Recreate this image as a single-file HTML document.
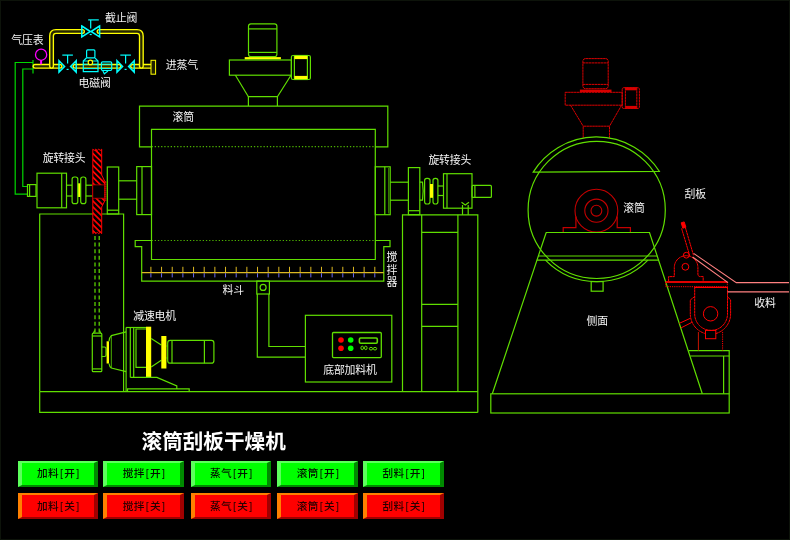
<!DOCTYPE html>
<html lang="zh"><head><meta charset="utf-8"><title>滚筒刮板干燥机</title>
<style>
html,body{margin:0;padding:0;background:#000}
body{width:790px;height:540px;overflow:hidden;position:relative;font-family:"Liberation Sans","Noto Sans CJK SC",sans-serif}
svg{position:absolute;left:0;top:0;filter:blur(0.5px)}
svg text{font-family:"Liberation Sans","Noto Sans CJK SC",sans-serif}
.edge{position:absolute;left:0;top:0;width:788px;height:538px;border:1px solid #0d130a;pointer-events:none}
.btn{position:absolute;box-sizing:border-box;width:80.6px;height:25.8px;border-style:solid;border-width:2.5px 4.5px 2.5px 4.5px;
font-size:10.67px;line-height:19.6px;text-align:center;color:#001400;font-weight:500;white-space:nowrap;letter-spacing:0.3px;filter:blur(0.3px)}
.b{display:inline-block;width:5.33px;text-align:center}
.on{padding:1px 0 0 2px;background:#00ff00;border-color:#5cff5c #008a00 #008a00 #5cff5c}
.off{padding:2.3px 0 0 2px;background:#ff0000;border-color:#ff8000 #a00000 #a00000 #ff8000;color:#280000}
</style></head><body>
<svg width="790" height="540" viewBox="0 0 790 540" fill="none">
<path d="M33,62.5 H15.2 V194.1 H27.5" stroke="#00d800" stroke-width="1.2" fill="none" />
<path d="M33,69 H22.8 V186.5 H27.5" stroke="#00d800" stroke-width="1.2" fill="none" />
<line x1="33" y1="60" x2="33" y2="73.5" stroke="#00d800" stroke-width="1.2" />
<path d="M35,66.3 H60" stroke="#ffff00" stroke-width="5" fill="none" stroke-linecap="round" stroke-linejoin="round"/>
<path d="M35,66.3 H60" stroke="#262600" stroke-width="2.3" fill="none" stroke-linecap="round" stroke-linejoin="round"/>
<path d="M75,66.3 H119" stroke="#ffff00" stroke-width="5" fill="none" stroke-linecap="round" stroke-linejoin="round"/>
<path d="M75,66.3 H119" stroke="#262600" stroke-width="2.3" fill="none" stroke-linecap="round" stroke-linejoin="round"/>
<path d="M132.5,66.3 H151" stroke="#ffff00" stroke-width="5" fill="none" stroke-linecap="round" stroke-linejoin="round"/>
<path d="M132.5,66.3 H151" stroke="#262600" stroke-width="2.3" fill="none" stroke-linecap="round" stroke-linejoin="round"/>
<path d="M51.55,66.3 V36 Q51.55,31.5 56,31.5 H82.5" stroke="#ffff00" stroke-width="5" fill="none" stroke-linecap="round" stroke-linejoin="round"/>
<path d="M51.55,66.3 V36 Q51.55,31.5 56,31.5 H82.5" stroke="#262600" stroke-width="2.3" fill="none" stroke-linecap="round" stroke-linejoin="round"/>
<path d="M99,31.5 H137 Q141.35,31.5 141.35,36 V66.3" stroke="#ffff00" stroke-width="5" fill="none" stroke-linecap="round" stroke-linejoin="round"/>
<path d="M99,31.5 H137 Q141.35,31.5 141.35,36 V66.3" stroke="#262600" stroke-width="2.3" fill="none" stroke-linecap="round" stroke-linejoin="round"/>
<rect x="151" y="60.3" width="4.6" height="13.9" rx="0" stroke="#ffff00" stroke-width="1" fill="#202000" />
<circle cx="41.1" cy="54.7" r="5.6" stroke="#ff00ff" stroke-width="1.3" fill="none" />
<line x1="41.1" y1="60.3" x2="41.1" y2="64.3" stroke="#ff00ff" stroke-width="2" />
<path d="M58.99999999999999,60.7 L64.6,66.4 L58.99999999999999,72.10000000000001 Z" stroke="#00ffff" stroke-width="1.5" fill="none" />
<path d="M76.19999999999999,60.7 L70.6,66.4 L76.19999999999999,72.10000000000001 Z" stroke="#00ffff" stroke-width="1.5" fill="none" />
<line x1="67.6" y1="63.400000000000006" x2="67.6" y2="55.10000000000001" stroke="#00ffff" stroke-width="1.2" />
<line x1="62.3" y1="55.10000000000001" x2="72.89999999999999" y2="55.10000000000001" stroke="#00ffff" stroke-width="1.2" />
<line x1="66.6" y1="69.4" x2="68.6" y2="69.4" stroke="#00ffff" stroke-width="1.2" />
<path d="M117.0,60.7 L122.6,66.4 L117.0,72.10000000000001 Z" stroke="#00ffff" stroke-width="1.5" fill="none" />
<path d="M134.2,60.7 L128.6,66.4 L134.2,72.10000000000001 Z" stroke="#00ffff" stroke-width="1.5" fill="none" />
<line x1="125.6" y1="63.400000000000006" x2="125.6" y2="55.10000000000001" stroke="#00ffff" stroke-width="1.2" />
<line x1="120.3" y1="55.10000000000001" x2="130.9" y2="55.10000000000001" stroke="#00ffff" stroke-width="1.2" />
<line x1="124.6" y1="69.4" x2="126.6" y2="69.4" stroke="#00ffff" stroke-width="1.2" />
<path d="M81.8,26.0 L90.4,31.5 L81.8,37.0 Z" stroke="#00ffff" stroke-width="1.5" fill="none" />
<path d="M99.60000000000001,26.0 L91.0,31.5 L99.60000000000001,37.0 Z" stroke="#00ffff" stroke-width="1.5" fill="none" />
<line x1="90.7" y1="28.5" x2="90.7" y2="19.9" stroke="#00ffff" stroke-width="1.2" />
<line x1="88.2" y1="19.9" x2="98.8" y2="19.9" stroke="#00ffff" stroke-width="1.2" />
<line x1="89.7" y1="34.5" x2="91.7" y2="34.5" stroke="#00ffff" stroke-width="1.2" />
<rect x="86.6" y="49.9" width="8.3" height="7.9" rx="1" stroke="#00ffff" stroke-width="1.2" fill="none" />
<path d="M86.6,57.8 L83.3,61 V71.7 H98 V61 L94.9,57.8" stroke="#00ffff" stroke-width="1.2" fill="none" />
<line x1="83.3" y1="61" x2="98" y2="61" stroke="#00ffff" stroke-width="1" />
<line x1="83.3" y1="64.3" x2="98" y2="64.3" stroke="#00ffff" stroke-width="1" />
<line x1="83.3" y1="68.6" x2="98" y2="68.6" stroke="#00ffff" stroke-width="1" />
<circle cx="90.4" cy="62.4" r="2.2" stroke="#ffff00" stroke-width="1.2" fill="#000" />
<rect x="101.4" y="61.9" width="10.3" height="8.6" rx="1.2" stroke="#00ffff" stroke-width="1.2" fill="none" />
<line x1="101.4" y1="64.3" x2="111.7" y2="64.3" stroke="#00ffff" stroke-width="1" />
<line x1="101.4" y1="68.6" x2="111.7" y2="68.6" stroke="#00ffff" stroke-width="1" />
<path d="M102.7,70.5 L104.3,73.8 L108,71" stroke="#00ffff" stroke-width="1.1" fill="none" />
<g transform="translate(0.4,0.5)">
<rect x="248.1" y="23.3" width="28.4" height="32.9" rx="2.5" stroke="#60de00" stroke-width="1.2" fill="none" />
<line x1="248.1" y1="28.4" x2="276.5" y2="28.4" stroke="#60de00" stroke-width="1.2" />
<line x1="248.1" y1="51.9" x2="276.5" y2="51.9" stroke="#60de00" stroke-width="1.2" />
<rect x="244.3" y="56.6" width="36.2" height="2.3" rx="0" stroke="#ffff00" stroke-width="0" fill="#ffff00" />
<rect x="229" y="59.5" width="62" height="15.2" rx="0" stroke="#60de00" stroke-width="1.2" fill="none" />
<rect x="291" y="55" width="19" height="24" rx="1.5" stroke="#60de00" stroke-width="1.2" fill="none" />
<rect x="294" y="55" width="13" height="24" rx="0" stroke="#60de00" stroke-width="1.2" fill="none" />
<rect x="294" y="55.3" width="13" height="3.3" rx="0" stroke="#ffff00" stroke-width="0" fill="#ffff00" />
<rect x="294" y="75.4" width="13" height="3.3" rx="0" stroke="#ffff00" stroke-width="0" fill="#ffff00" />
<path d="M235,74.7 L248,96.2 M290.6,74.7 L277,96.2" stroke="#60de00" stroke-width="1.2" fill="none" />
<path d="M248,105.6 V96.2 H277 V105.6" stroke="#60de00" stroke-width="1.2" fill="none" />
</g>
<path d="M151.5,146.8 H139.5 V106.1 H387.8 V146.8 H375.4" stroke="#60de00" stroke-width="1.2" fill="none" />
<path d="M151.5,259.5 V129.3 H375.3 V259.5 Z" stroke="#60de00" stroke-width="1.2" fill="none" />
<line x1="151.5" y1="146.6" x2="375.3" y2="146.6" stroke="#60de00" stroke-width="1.2" stroke-dasharray="1.3 1.9" opacity="0.8"/>
<line x1="151.5" y1="240.5" x2="375.3" y2="240.5" stroke="#60de00" stroke-width="1.2" stroke-dasharray="1.3 1.9" opacity="0.8"/>
<path d="M151.5,240.5 H135.2 V246.7 H141.7 V281.1 H383.8 V246.6 H390 V240.5 H375.3" stroke="#60de00" stroke-width="1.2" fill="none" />
<line x1="141.7" y1="272.7" x2="383.8" y2="272.7" stroke="#dcb822" stroke-width="1.2" />
<line x1="150.9" y1="266.8" x2="150.9" y2="272.7" stroke="#dcb822" stroke-width="1" />
<line x1="150.9" y1="273.2" x2="150.9" y2="277.4" stroke="#6a6af0" stroke-width="1" />
<line x1="161.56" y1="266.8" x2="161.56" y2="272.7" stroke="#dcb822" stroke-width="1" />
<line x1="161.56" y1="273.2" x2="161.56" y2="277.4" stroke="#6a6af0" stroke-width="1" />
<line x1="172.22" y1="266.8" x2="172.22" y2="272.7" stroke="#dcb822" stroke-width="1" />
<line x1="172.22" y1="273.2" x2="172.22" y2="277.4" stroke="#6a6af0" stroke-width="1" />
<line x1="182.89" y1="266.8" x2="182.89" y2="272.7" stroke="#dcb822" stroke-width="1" />
<line x1="182.89" y1="273.2" x2="182.89" y2="277.4" stroke="#6a6af0" stroke-width="1" />
<line x1="193.55" y1="266.8" x2="193.55" y2="272.7" stroke="#dcb822" stroke-width="1" />
<line x1="193.55" y1="273.2" x2="193.55" y2="277.4" stroke="#6a6af0" stroke-width="1" />
<line x1="204.21" y1="266.8" x2="204.21" y2="272.7" stroke="#dcb822" stroke-width="1" />
<line x1="204.21" y1="273.2" x2="204.21" y2="277.4" stroke="#6a6af0" stroke-width="1" />
<line x1="214.87" y1="266.8" x2="214.87" y2="272.7" stroke="#dcb822" stroke-width="1" />
<line x1="214.87" y1="273.2" x2="214.87" y2="277.4" stroke="#6a6af0" stroke-width="1" />
<line x1="225.53" y1="266.8" x2="225.53" y2="272.7" stroke="#dcb822" stroke-width="1" />
<line x1="225.53" y1="273.2" x2="225.53" y2="277.4" stroke="#6a6af0" stroke-width="1" />
<line x1="236.2" y1="266.8" x2="236.2" y2="272.7" stroke="#dcb822" stroke-width="1" />
<line x1="236.2" y1="273.2" x2="236.2" y2="277.4" stroke="#6a6af0" stroke-width="1" />
<line x1="246.86" y1="266.8" x2="246.86" y2="272.7" stroke="#dcb822" stroke-width="1" />
<line x1="246.86" y1="273.2" x2="246.86" y2="277.4" stroke="#6a6af0" stroke-width="1" />
<line x1="257.52" y1="266.8" x2="257.52" y2="272.7" stroke="#dcb822" stroke-width="1" />
<line x1="257.52" y1="273.2" x2="257.52" y2="277.4" stroke="#6a6af0" stroke-width="1" />
<line x1="268.18" y1="266.8" x2="268.18" y2="272.7" stroke="#dcb822" stroke-width="1" />
<line x1="268.18" y1="273.2" x2="268.18" y2="277.4" stroke="#6a6af0" stroke-width="1" />
<line x1="278.84" y1="266.8" x2="278.84" y2="272.7" stroke="#dcb822" stroke-width="1" />
<line x1="278.84" y1="273.2" x2="278.84" y2="277.4" stroke="#6a6af0" stroke-width="1" />
<line x1="289.5" y1="266.8" x2="289.5" y2="272.7" stroke="#dcb822" stroke-width="1" />
<line x1="289.5" y1="273.2" x2="289.5" y2="277.4" stroke="#6a6af0" stroke-width="1" />
<line x1="300.17" y1="266.8" x2="300.17" y2="272.7" stroke="#dcb822" stroke-width="1" />
<line x1="300.17" y1="273.2" x2="300.17" y2="277.4" stroke="#6a6af0" stroke-width="1" />
<line x1="310.83" y1="266.8" x2="310.83" y2="272.7" stroke="#dcb822" stroke-width="1" />
<line x1="310.83" y1="273.2" x2="310.83" y2="277.4" stroke="#6a6af0" stroke-width="1" />
<line x1="321.49" y1="266.8" x2="321.49" y2="272.7" stroke="#dcb822" stroke-width="1" />
<line x1="321.49" y1="273.2" x2="321.49" y2="277.4" stroke="#6a6af0" stroke-width="1" />
<line x1="332.15" y1="266.8" x2="332.15" y2="272.7" stroke="#dcb822" stroke-width="1" />
<line x1="332.15" y1="273.2" x2="332.15" y2="277.4" stroke="#6a6af0" stroke-width="1" />
<line x1="342.81" y1="266.8" x2="342.81" y2="272.7" stroke="#dcb822" stroke-width="1" />
<line x1="342.81" y1="273.2" x2="342.81" y2="277.4" stroke="#6a6af0" stroke-width="1" />
<line x1="353.48" y1="266.8" x2="353.48" y2="272.7" stroke="#dcb822" stroke-width="1" />
<line x1="353.48" y1="273.2" x2="353.48" y2="277.4" stroke="#6a6af0" stroke-width="1" />
<line x1="364.14" y1="266.8" x2="364.14" y2="272.7" stroke="#dcb822" stroke-width="1" />
<line x1="364.14" y1="273.2" x2="364.14" y2="277.4" stroke="#6a6af0" stroke-width="1" />
<line x1="374.8" y1="266.8" x2="374.8" y2="272.7" stroke="#dcb822" stroke-width="1" />
<line x1="374.8" y1="273.2" x2="374.8" y2="277.4" stroke="#6a6af0" stroke-width="1" />
<rect x="256.8" y="281.1" width="12.6" height="12.9" rx="0" stroke="#60de00" stroke-width="1.2" fill="none" />
<circle cx="263.1" cy="287.4" r="3" stroke="#60de00" stroke-width="1.2" fill="none" />
<path d="M257.3,294 V357.1 H305.4" stroke="#60de00" stroke-width="1.2" fill="none" />
<path d="M268.9,294 V346.5 H305.4" stroke="#60de00" stroke-width="1.2" fill="none" />
<rect x="305.4" y="315.3" width="86.4" height="66.7" rx="0" stroke="#60de00" stroke-width="1.2" fill="none" />
<rect x="332.5" y="332.5" width="48.8" height="25.1" rx="1" stroke="#60de00" stroke-width="1.3" fill="none" />
<circle cx="341" cy="340" r="2.8" stroke="#ff0000" stroke-width="0" fill="#ff0000" />
<circle cx="341" cy="348.3" r="2.8" stroke="#ff0000" stroke-width="0" fill="#ff0000" />
<circle cx="350.7" cy="340" r="2.8" stroke="#00ff00" stroke-width="0" fill="#00ff00" />
<circle cx="350.7" cy="348.3" r="2.8" stroke="#00ff00" stroke-width="0" fill="#00ff00" />
<rect x="359.4" y="338" width="17.9" height="5.3" rx="1.2" stroke="#60de00" stroke-width="1.6" fill="none" />
<ellipse cx="362.2" cy="347.9" rx="1.3" ry="1.8" stroke="#60de00" stroke-width="1" fill="none"/>
<ellipse cx="365.8" cy="347.9" rx="1.3" ry="1.8" stroke="#60de00" stroke-width="1" fill="none"/>
<ellipse cx="371" cy="348.7" rx="1.7" ry="1.3" stroke="#60de00" stroke-width="1" fill="none"/>
<ellipse cx="375" cy="348.7" rx="1.7" ry="1.3" stroke="#60de00" stroke-width="1" fill="none"/>
<path d="M39.7,391.7 V214 H123.6 V391.7" stroke="#60de00" stroke-width="1.2" fill="none" />
<rect x="27.5" y="184.6" width="8.5" height="11.8" rx="0" stroke="#60de00" stroke-width="1.2" fill="none" />
<line x1="29.6" y1="184.6" x2="29.6" y2="196.4" stroke="#60de00" stroke-width="1.2" />
<rect x="37" y="173.2" width="29.5" height="34.6" rx="0" stroke="#60de00" stroke-width="1.2" fill="none" />
<line x1="61.7" y1="173.2" x2="61.7" y2="207.8" stroke="#60de00" stroke-width="1.2" />
<line x1="66.5" y1="185.2" x2="72.1" y2="185.2" stroke="#60de00" stroke-width="1.2" />
<line x1="66.5" y1="196" x2="72.1" y2="196" stroke="#60de00" stroke-width="1.2" />
<rect x="77.8" y="183.3" width="2.9" height="13.7" rx="0" stroke="#ffff00" stroke-width="0" fill="#ffff00" />
<rect x="72.1" y="177" width="5.7" height="26.6" rx="2.2" stroke="#60de00" stroke-width="1.2" fill="none" />
<rect x="80.7" y="177" width="5.2" height="26.6" rx="2.2" stroke="#60de00" stroke-width="1.2" fill="none" />
<line x1="85.9" y1="185.2" x2="92.7" y2="185.2" stroke="#60de00" stroke-width="1.2" />
<line x1="85.9" y1="196" x2="92.7" y2="196" stroke="#60de00" stroke-width="1.2" />
<defs><pattern id="hz" width="4.2" height="4.2" patternUnits="userSpaceOnUse" patternTransform="rotate(45)"><rect width="4.2" height="4.2" fill="#000"/><rect width="4.2" height="1.7" fill="#ff0000"/></pattern></defs>
<path d="M92.8,149.2 L94.28,150.39999999999998 L95.77,149.2 L97.25,150.39999999999998 L98.73,149.2 L100.22,150.39999999999998 L101.7,149.2 L101.7,175 L105,181.8 V200.3 L101.7,207 L101.7,233.6 L100.22,232.4 L98.73,233.6 L97.25,232.4 L95.77,233.6 L94.28,232.4 L92.8,233.6 Z" stroke="#ff0000" stroke-width="1" fill="url(#hz)" />
<rect x="92.8" y="184.9" width="11.8" height="13.3" rx="0" stroke="#c00000" stroke-width="0.8" fill="#000" />
<rect x="105" y="181.8" width="2.1" height="18.5" rx="0" stroke="#ff0000" stroke-width="0.8" fill="none" stroke-dasharray="1 1"/>
<line x1="95" y1="236" x2="95" y2="333" stroke="#60de00" stroke-width="1.2" stroke-dasharray="4 2.6"/>
<line x1="99.2" y1="236" x2="99.2" y2="333" stroke="#60de00" stroke-width="1.2" stroke-dasharray="4 2.6"/>
<rect x="107.3" y="167" width="11.4" height="47" rx="0" stroke="#60de00" stroke-width="1.2" fill="none" />
<line x1="107.3" y1="210.2" x2="118.7" y2="210.2" stroke="#60de00" stroke-width="1.2" />
<line x1="118.7" y1="180.8" x2="136.7" y2="180.8" stroke="#60de00" stroke-width="1.2" />
<line x1="118.7" y1="199.2" x2="136.7" y2="199.2" stroke="#60de00" stroke-width="1.2" />
<rect x="136.7" y="166.6" width="14.8" height="48.0" rx="0" stroke="#60de00" stroke-width="1.2" fill="none" />
<line x1="142" y1="166.6" x2="142" y2="214.6" stroke="#60de00" stroke-width="1.2" />
<rect x="375.3" y="166.8" width="14.9" height="47.9" rx="0" stroke="#60de00" stroke-width="1.2" fill="none" />
<line x1="384.8" y1="166.8" x2="384.8" y2="214.7" stroke="#60de00" stroke-width="1.2" />
<line x1="388.6" y1="168" x2="388.6" y2="213.5" stroke="#60de00" stroke-width="0.6" />
<line x1="390.2" y1="182.2" x2="408.4" y2="182.2" stroke="#60de00" stroke-width="1.2" />
<line x1="390.2" y1="200.2" x2="408.4" y2="200.2" stroke="#60de00" stroke-width="1.2" />
<rect x="408.4" y="167.6" width="11.4" height="47.1" rx="0" stroke="#60de00" stroke-width="1.2" fill="none" />
<line x1="408.4" y1="210.7" x2="419.8" y2="210.7" stroke="#60de00" stroke-width="1.2" />
<path d="M419.8,182.2 H422.5 Q423.8,191 422.5,200.2 H419.8" stroke="#60de00" stroke-width="1.2" fill="none" />
<rect x="424.6" y="178.4" width="5.4" height="25.6" rx="2.2" stroke="#60de00" stroke-width="1.2" fill="none" />
<rect x="433" y="178.4" width="4.9" height="25.6" rx="2.2" stroke="#60de00" stroke-width="1.2" fill="none" />
<rect x="430" y="184" width="3" height="13.8" rx="0" stroke="#ffff00" stroke-width="0" fill="#ffff00" />
<line x1="437.9" y1="186" x2="443.5" y2="186" stroke="#60de00" stroke-width="1.2" />
<line x1="437.9" y1="195.5" x2="443.5" y2="195.5" stroke="#60de00" stroke-width="1.2" />
<rect x="443.5" y="173.7" width="28.5" height="34.5" rx="0" stroke="#60de00" stroke-width="1.2" fill="none" />
<line x1="447" y1="173.7" x2="447" y2="208.2" stroke="#60de00" stroke-width="1.2" />
<rect x="472" y="185.4" width="19.4" height="12.0" rx="1" stroke="#60de00" stroke-width="1.2" fill="none" />
<line x1="474.9" y1="185.4" x2="474.9" y2="197.4" stroke="#60de00" stroke-width="1.2" />
<path d="M462.5,214.7 V205 M468.2,214.7 V205 M461.5,202.3 L465.3,205 L469,202.3" stroke="#60de00" stroke-width="1.2" fill="none" />
<path d="M402.5,391.7 V214.8 H477.8 V412.4" stroke="#60de00" stroke-width="1.2" fill="none" />
<line x1="421.7" y1="214.8" x2="421.7" y2="391.7" stroke="#60de00" stroke-width="1.2" />
<line x1="457.9" y1="214.8" x2="457.9" y2="391.7" stroke="#60de00" stroke-width="1.2" />
<line x1="421.7" y1="232.3" x2="457.9" y2="232.3" stroke="#60de00" stroke-width="1.2" />
<line x1="421.7" y1="304.3" x2="457.9" y2="304.3" stroke="#60de00" stroke-width="1.2" />
<line x1="421.7" y1="326.4" x2="457.9" y2="326.4" stroke="#60de00" stroke-width="1.2" />
<path d="M39.7,391.7 H477.8 M39.7,391.7 V412.4 H477.8" stroke="#60de00" stroke-width="1.2" fill="none" />
<rect x="92.3" y="333.2" width="9.5" height="38.5" rx="1" stroke="#60de00" stroke-width="1.2" fill="none" />
<line x1="92.3" y1="336" x2="101.8" y2="336" stroke="#60de00" stroke-width="1.2" />
<line x1="92.3" y1="368.9" x2="101.8" y2="368.9" stroke="#60de00" stroke-width="1.2" />
<path d="M93.5,333.2 L94.6,330.5 M100.6,333.2 L99.6,330.5" stroke="#60de00" stroke-width="1.2" fill="none" />
<path d="M101.8,347 H104.5 Q106,347 106,348.5 V355 Q106,356.5 104.5,356.5 H101.8" stroke="#60de00" stroke-width="1.2" fill="none" />
<rect x="106.6" y="341.3" width="2.4" height="22.2" rx="0" stroke="#ffff00" stroke-width="0" fill="#ffff00" />
<path d="M109,341.3 Q109.5,337 111.3,335.6 L126.1,331.8 M109,363.5 Q109.5,367 111.3,368 L126.1,371.7" stroke="#60de00" stroke-width="1.2" fill="none" />
<line x1="111.3" y1="335.6" x2="111.3" y2="368" stroke="#60de00" stroke-width="0.8" />
<line x1="126.1" y1="327.5" x2="126.1" y2="391.7" stroke="#60de00" stroke-width="1.2" />
<line x1="126.1" y1="327.5" x2="146" y2="327.5" stroke="#60de00" stroke-width="1.2" />
<line x1="130.3" y1="327.5" x2="130.3" y2="377.4" stroke="#60de00" stroke-width="1.2" />
<line x1="133.7" y1="327.5" x2="133.7" y2="377.4" stroke="#60de00" stroke-width="1.2" />
<path d="M146,329 H136 V367.3 H146" stroke="#60de00" stroke-width="1.2" fill="none" />
<rect x="146" y="326.7" width="5.2" height="50.7" rx="0" stroke="#ffff00" stroke-width="0" fill="#ffff00" />
<path d="M130.3,377.4 H156.9 L176.8,386 V388.8 M127.5,391.7 V388.8 H189.2 V391.7" stroke="#60de00" stroke-width="1.2" fill="none" />
<path d="M151.2,338.5 L161.3,345 M151.2,367 L161.3,360.3" stroke="#60de00" stroke-width="1.2" fill="none" />
<rect x="161.3" y="336" width="5.1" height="32.5" rx="0" stroke="#ffff00" stroke-width="0" fill="#ffff00" />
<rect x="167.7" y="340.4" width="46.2" height="22.8" rx="2.5" stroke="#60de00" stroke-width="1.2" fill="none" />
<line x1="172" y1="340.4" x2="172" y2="363.2" stroke="#60de00" stroke-width="1.2" />
<line x1="204.4" y1="340.4" x2="204.4" y2="363.2" stroke="#60de00" stroke-width="1.2" />
<line x1="166.4" y1="346" x2="167.7" y2="346" stroke="#60de00" stroke-width="1.2" />
<line x1="166.4" y1="358" x2="167.7" y2="358" stroke="#60de00" stroke-width="1.2" />
<rect x="582.9" y="58.6" width="25.3" height="30.1" rx="2.5" stroke="#d80000" stroke-width="1" fill="none" stroke-dasharray="2.6 0.35"/>
<line x1="582.9" y1="62.9" x2="608.2" y2="62.9" stroke="#d80000" stroke-width="1" stroke-dasharray="2.6 0.35"/>
<line x1="582.9" y1="84.4" x2="608.2" y2="84.4" stroke="#d80000" stroke-width="1" stroke-dasharray="2.6 0.35"/>
<rect x="579.9" y="89.6" width="31.6" height="2.4" rx="0" stroke="#d80000" stroke-width="0" fill="#d80000" />
<rect x="565.2" y="92.3" width="57.0" height="12.9" rx="0" stroke="#d80000" stroke-width="1" fill="none" stroke-dasharray="2.6 0.35"/>
<rect x="622.2" y="87.7" width="17.2" height="20.8" rx="1.5" stroke="#d80000" stroke-width="1" fill="none" stroke-dasharray="2.6 0.35"/>
<rect x="625.4" y="87.7" width="11.4" height="20.8" rx="0" stroke="#d80000" stroke-width="1" fill="none" stroke-dasharray="2.6 0.35"/>
<rect x="625.4" y="88" width="11.4" height="2.3" rx="0" stroke="#d80000" stroke-width="0" fill="#d80000" />
<rect x="625.4" y="105.9" width="11.4" height="2.3" rx="0" stroke="#d80000" stroke-width="0" fill="#d80000" />
<path d="M570.5,105.2 L583.2,126.2 M621.6,105.2 L609.5,126.2" stroke="#d80000" stroke-width="1" fill="none" stroke-dasharray="2.6 0.35"/>
<path d="M583.2,137.8 V126.2 H609.5 V137.8" stroke="#d80000" stroke-width="1" fill="none" stroke-dasharray="2.6 0.35"/>
<circle cx="596.7" cy="209.9" r="68.6" stroke="#60de00" stroke-width="1.2" fill="none" />
<path d="M533.2,172.1 A74.6,74.6 0 0 1 659.3,171.3 Z" stroke="#60de00" stroke-width="1.2" fill="none" />
<path d="M545.46,260.2 A71.8,71.8 0 0 0 647.94,260.2" stroke="#60de00" stroke-width="1.2" fill="none" />
<circle cx="596.4" cy="210.7" r="5.4" stroke="#c40000" stroke-width="1.1" fill="none" />
<circle cx="596.4" cy="210.7" r="11.6" stroke="#c40000" stroke-width="1.1" fill="none" />
<circle cx="596.4" cy="210.7" r="21.4" stroke="#c40000" stroke-width="1.1" fill="none" />
<path d="M563.2,232.2 V227.6 H575.9 V216.5 M617.2,216.5 V227.6 H630.4 V232.2" stroke="#c40000" stroke-width="1.2" fill="none" />
<path d="M546.2,232.5 H649.5 L702.3,393.8 M546.2,232.5 L492.3,393.8" stroke="#60de00" stroke-width="1.2" fill="none" />
<line x1="538.2" y1="256" x2="657.33" y2="256" stroke="#60de00" stroke-width="1.2" />
<line x1="536.81" y1="260.2" x2="658.7" y2="260.2" stroke="#60de00" stroke-width="1.2" />
<rect x="591.2" y="281.6" width="11.9" height="9.6" rx="0" stroke="#60de00" stroke-width="1.2" fill="none" />
<rect x="490.8" y="393.8" width="238.4" height="19.2" rx="0" stroke="#60de00" stroke-width="1.2" fill="none" />
<path d="M688.6,350.7 H729.2 V393.8" stroke="#60de00" stroke-width="1.2" fill="none" />
<line x1="690.4" y1="356" x2="729.2" y2="356" stroke="#60de00" stroke-width="1.2" />
<line x1="723.6" y1="356" x2="723.6" y2="393.8" stroke="#60de00" stroke-width="1.2" />
<path d="M681.6,228.4 L690,256.6 M685.3,227.3 L693.6,255.6" stroke="#ff0000" stroke-width="1" fill="none" stroke-dasharray="2.6 0.35"/>
<path d="M681.2,222.8 L684.2,221.9 L685.9,227.2 L682.8,228.2 Z" stroke="#ff0000" stroke-width="1" fill="#ff0000" />
<circle cx="686.3" cy="255.2" r="2.9" stroke="#ff0000" stroke-width="1" fill="none" />
<path d="M668.6,281.6 V276.6 H674.3 V267.5 A11.8,11.8 0 0 1 697.9,267.5 V274 Q697.9,276.6 700.5,276.6 H703.2 V281.6" stroke="#ff0000" stroke-width="1" fill="none" stroke-dasharray="2.6 0.35"/>
<circle cx="685.4" cy="266.8" r="3.4" stroke="#ff0000" stroke-width="1" fill="none" />
<rect x="665.7" y="281" width="61.6" height="2" rx="0" stroke="#e00000" stroke-width="0" fill="#e00000" />
<path d="M665.7,282 V286.7 H727.3 V282" stroke="#ff0000" stroke-width="1" fill="none" stroke-dasharray="1.2 1"/>
<path d="M694.7,287 V314 A16.4,16.4 0 0 0 727.5,314 V287" stroke="#ff0000" stroke-width="1" fill="none" stroke-dasharray="2.6 0.35"/>
<line x1="694.7" y1="287.4" x2="727.5" y2="287.4" stroke="#ff0000" stroke-width="1.4" />
<path d="M694.7,296.5 L690.3,300 V314 A20.4,20.4 0 0 0 705.5,333.6 M715.8,333.6 A20.4,20.4 0 0 0 730.6,314 V300 L727.5,296.5" stroke="#ff0000" stroke-width="1" fill="none" stroke-dasharray="2.6 0.35"/>
<circle cx="710.6" cy="313.8" r="7.2" stroke="#ff0000" stroke-width="1" fill="none" />
<rect x="705.5" y="330.4" width="10.3" height="8.3" rx="0" stroke="#ff0000" stroke-width="1" fill="none" />
<line x1="698.4" y1="332" x2="698.4" y2="350.5" stroke="#c81400" stroke-width="1" />
<line x1="722.6" y1="332" x2="722.6" y2="350.5" stroke="#ff0000" stroke-width="1" stroke-dasharray="1.2 1"/>
<path d="M679.2,323.4 L690.3,318.3 M680.8,328 L691.8,322.4" stroke="#ff0000" stroke-width="1" fill="none" />
<path d="M693.6,253.4 L736.3,282.6 H790 M692.6,257 L728,282.6 M727.5,291.9 H790" stroke="#ff8080" stroke-width="1.1" fill="none" />
<text x="11.3" y="43.56" font-size="10.9" font-weight="400" fill="#f4f4f4"  letter-spacing="-0.2">气压表</text>
<text x="105" y="22.16" font-size="10.9" font-weight="400" fill="#f4f4f4"  letter-spacing="-0.2">截止阀</text>
<text x="78.5" y="86.66" font-size="10.9" font-weight="400" fill="#f4f4f4"  letter-spacing="-0.2">电磁阀</text>
<text x="165.8" y="68.96" font-size="10.9" font-weight="400" fill="#f4f4f4"  letter-spacing="-0.2">进蒸气</text>
<text x="172.6" y="121.36" font-size="10.9" font-weight="400" fill="#f4f4f4"  letter-spacing="-0.2">滚筒</text>
<text x="42.7" y="162.36" font-size="10.9" font-weight="400" fill="#f4f4f4"  letter-spacing="-0.2">旋转接头</text>
<text x="428.4" y="164.36" font-size="10.9" font-weight="400" fill="#f4f4f4"  letter-spacing="-0.2">旋转接头</text>
<text x="133.2" y="320.06" font-size="10.9" font-weight="400" fill="#f4f4f4"  letter-spacing="-0.2">减速电机</text>
<text x="222.5" y="293.66" font-size="10.9" font-weight="400" fill="#f4f4f4"  letter-spacing="-0.2">料斗</text>
<text x="323.2" y="374.26" font-size="10.9" font-weight="400" fill="#f4f4f4"  letter-spacing="-0.2">底部加料机</text>
<text x="386.6" y="261.36" font-size="10.9" font-weight="400" fill="#f4f4f4"  letter-spacing="-0.2">搅</text>
<text x="386.6" y="273.56" font-size="10.9" font-weight="400" fill="#f4f4f4"  letter-spacing="-0.2">拌</text>
<text x="386.6" y="285.96" font-size="10.9" font-weight="400" fill="#f4f4f4"  letter-spacing="-0.2">器</text>
<text x="684.5" y="198.36" font-size="10.9" font-weight="400" fill="#f4f4f4"  letter-spacing="-0.2">刮板</text>
<text x="623.2" y="212.36" font-size="10.9" font-weight="400" fill="#f4f4f4"  letter-spacing="-0.2">滚筒</text>
<text x="754.3" y="306.66" font-size="10.9" font-weight="400" fill="#f4f4f4"  letter-spacing="-0.2">收料</text>
<text x="586.6" y="324.86" font-size="10.9" font-weight="400" fill="#f4f4f4"  letter-spacing="-0.2">侧面</text>
<text x="141.6" y="448.54" font-size="20.6" font-weight="700" fill="#fff"  letter-spacing="0">滚筒刮板干燥机</text>
</svg>
<div class="edge"></div>
<div class="btn on" style="left:17.5px;top:461px">加料<span class="b">[</span>开<span class="b">]</span></div><div class="btn on" style="left:103.3px;top:461px">搅拌<span class="b">[</span>开<span class="b">]</span></div><div class="btn on" style="left:190.5px;top:461px">蒸气<span class="b">[</span>开<span class="b">]</span></div><div class="btn on" style="left:277.2px;top:461px">滚筒<span class="b">[</span>开<span class="b">]</span></div><div class="btn on" style="left:363.1px;top:461px">刮料<span class="b">[</span>开<span class="b">]</span></div><div class="btn off" style="left:17.5px;top:493px">加料<span class="b">[</span>关<span class="b">]</span></div><div class="btn off" style="left:103.3px;top:493px">搅拌<span class="b">[</span>关<span class="b">]</span></div><div class="btn off" style="left:190.5px;top:493px">蒸气<span class="b">[</span>关<span class="b">]</span></div><div class="btn off" style="left:277.2px;top:493px">滚筒<span class="b">[</span>关<span class="b">]</span></div><div class="btn off" style="left:363.1px;top:493px">刮料<span class="b">[</span>关<span class="b">]</span></div>
</body></html>
